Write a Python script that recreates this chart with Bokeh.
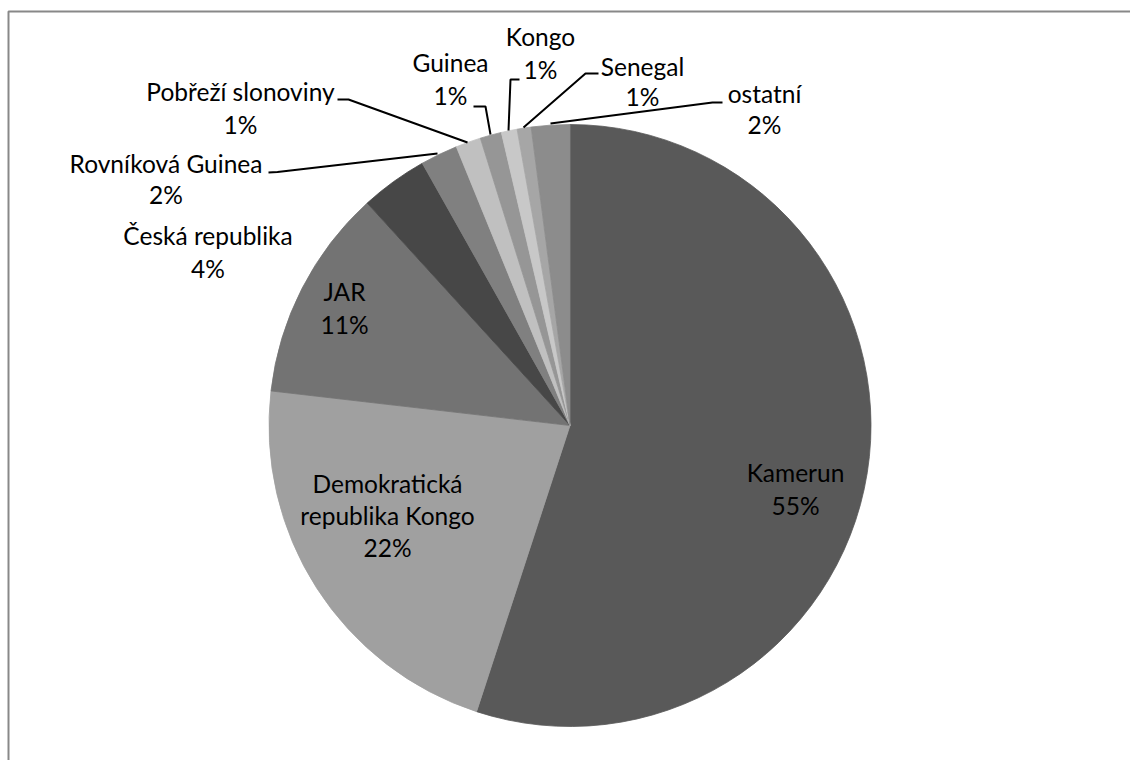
import math
from bokeh.plotting import figure
from bokeh.models import Range1d
from bokeh.core.properties import value
from bokeh.embed import file_html
from bokeh.resources import INLINE

# ---- data -------------------------------------------------------------
countries = ["Kamerun", "Demokratická republika Kongo", "JAR", "Česká republika",
             "Rovníková Guinea", "Pobřeží slonoviny", "Guinea", "Kongo", "Senegal", "ostatní"]
shares = [55.0, 21.8, 11.4, 3.6, 2.0, 1.35, 1.15, 0.85, 0.75, 2.06]

# ---- styles / layout ---------------------------------------------------
colors = ["#595959", "#a0a0a0", "#737373", "#474747", "#808080",
          "#c0c0c0", "#969696", "#c8c8c8", "#a6a6a6", "#8c8c8c"]
# how names wrap on the chart
wrap = {"Demokratická republika Kongo": ["Demokratická", "republika Kongo"]}
# label anchor: centre x, vertical positions of the lines (screen px)
TEXT_SHIFT = 9
label_pos = [
    (795, [481, 514]),
    (387, [492, 524, 556]),
    (344, [300, 333]),
    (207.5, [244, 277]),
    (165.5, [172, 203]),
    (240, [100, 133]),
    (450, [71, 104]),
    (540, [45, 78]),
    (642, [75, 105]),
    (764, [102, 133]),
]
# leader lines (screen px) for outside labels, None for inside labels
leaders = [None, None, None, None,
           [(268, 172), (277, 171.5), (437, 153)],
           [(337, 99), (348, 99), (467, 142)],
           [(473, 106), (485, 106), (490, 134)],
           [(519, 79), (510, 79), (508, 130)],
           [(598, 73), (585, 73), (523, 127)],
           [(722, 102), (712, 102), (550, 123)]]

CX, CY, R = 569.5, 425.0, 301.0
W, H = 1130, 760
FONT = "Lato"
FSIZE = "24.5px"

p = figure(width=W, height=H, output_backend="svg", toolbar_location=None,
           x_range=Range1d(0, W), y_range=Range1d(-H, 0),
           min_border=0)
p.axis.visible = False
p.grid.visible = False
p.outline_line_color = None
p.background_fill_color = "white"
p.border_fill_color = "white"

total = sum(shares)
cum = 0.0
starts, ends = [], []
for v in shares:
    starts.append(math.pi / 2 - 2 * math.pi * cum / total)
    cum += v
    ends.append(math.pi / 2 - 2 * math.pi * cum / total)

p.wedge(x=[CX] * len(shares), y=[-CY] * len(shares), radius=R,
        start_angle=starts, end_angle=ends, direction="clock",
        fill_color=colors, line_color=colors, line_width=0.8)

# frame (only left and top edges visible in the reference)
p.line(x=[8, 8, W + 20], y=[-(H + 20), -11, -11],
       line_color="#888888", line_width=2)

# leader lines
for ld in leaders:
    if ld:
        p.line(x=[a for a, b in ld], y=[-b for a, b in ld],
               line_color="black", line_width=2)

# labels
xs, ys, ts = [], [], []
for name, v, (lx, bls) in zip(countries, shares, label_pos):
    lines = wrap.get(name, [name]) + [f"{round(v / total * 100)}%"]
    for t, bl in zip(lines, bls):
        xs.append(lx)
        ys.append(-(bl - TEXT_SHIFT))
        ts.append(t)
p.text(x=xs, y=ys, text=ts, text_align="center", text_baseline="alphabetic",
       text_font=value(FONT), text_font_size=FSIZE, text_color="black")

open("out.html", "w").write(file_html(p, INLINE))
